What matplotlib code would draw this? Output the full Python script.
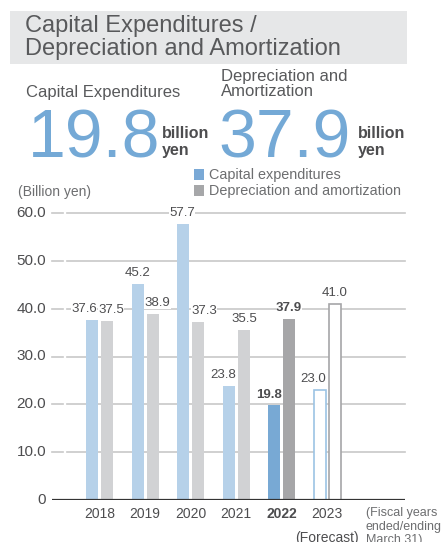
import matplotlib.pyplot as plt
from matplotlib.patches import Rectangle

years = ['2018', '2019', '2020', '2021', '2022', '2023']
capex = [37.6, 45.2, 57.7, 23.8, 19.8, 23.0]
depr = [37.5, 38.9, 37.3, 35.5, 37.9, 41.0]
yticks = [0, 10, 20, 30, 40, 50, 60]
ytick_labels = ['0', '10.0', '20.0', '30.0', '40.0', '50.0', '60.0']

current = 4   # fiscal 2022, highlighted
forecast = 5  # fiscal 2023, outlined

# nudges (px) so neighbouring value labels don't collide
capex_dx = [-8, 0, -1, -5, -5, -6]
depr_dx = [4, 5, 6, 1, 0, 0]

TXT = '#58595b'
SANS = ['Liberation Sans', 'DejaVu Sans']

fig = plt.figure(figsize=(4.45, 5.42), dpi=100)
W, H = 445, 542

def fx(px):
    return px / W

def fy(py):
    return 1 - py / H

# header band
fig.patches.append(Rectangle((fx(10), fy(64)), fx(397), 53 / H, transform=fig.transFigure,
                             facecolor='#e6e7e8', edgecolor='none', zorder=0))
fig.text(fx(25), fy(26), 'Capital Expenditures /', fontsize=17, color=TXT,
         family=SANS, va='center', ha='left')
fig.text(fx(25), fy(49), 'Depreciation and Amortization', fontsize=17, color=TXT,
         family=SANS, va='center', ha='left')

# headline figures
fig.text(fx(26), fy(92), 'Capital Expenditures', fontsize=12, color=TXT, family=SANS, va='center')
fig.text(fx(221), fy(76), 'Depreciation and', fontsize=12, color=TXT, family=SANS, va='center')
fig.text(fx(221), fy(92), 'Amortization', fontsize=12, color=TXT, family=SANS, va='center')

BIG = '#74a9d6'
fig.text(fx(28), fy(157), '19.8', fontsize=49, color=BIG, family=SANS, va='baseline')
fig.text(fx(218), fy(157), '37.9', fontsize=49, color=BIG, family=SANS, va='baseline')
for x0 in (162, 358):
    fig.text(fx(x0), fy(133), 'billion', fontsize=11.5, color='#4d4d4f', family=SANS,
             fontweight='bold', va='center')
    fig.text(fx(x0), fy(150), 'yen', fontsize=11.5, color='#4d4d4f', family=SANS,
             fontweight='bold', va='center')

# legend
fig.patches.append(Rectangle((fx(194), fy(180)), fx(10), 11 / H, transform=fig.transFigure,
                             facecolor='#7aa9d6', edgecolor='none'))
fig.patches.append(Rectangle((fx(194), fy(196)), fx(10), 11 / H, transform=fig.transFigure,
                             facecolor='#a6a7a9', edgecolor='none'))
fig.text(fx(209), fy(175), 'Capital expenditures', fontsize=10.4, color='#6d6e70', family=SANS, va='center')
fig.text(fx(209), fy(191), 'Depreciation and amortization', fontsize=10.4, color='#6d6e70',
         family=SANS, va='center')
fig.text(fx(18), fy(192), '(Billion yen)', fontsize=10, color='#6d6e70', family=SANS, va='center')

# chart area
ax = fig.add_axes([fx(52), fy(500), fx(353), 287 / H])
ax.set_xlim(-1.044, 6.71)
ax.set_ylim(0, 60)
for s in ax.spines.values():
    s.set_visible(False)
ax.set_xticks([])
ax.set_yticks([])

for v, lab in zip(yticks, ytick_labels):
    if v == 0:
        continue
    ax.plot([0, 0.03], [v, v], transform=ax.get_yaxis_transform(), color='#c8c8c8', lw=1.2, clip_on=False)
    ax.plot([0.043, 1], [v, v], transform=ax.get_yaxis_transform(), color='#c8c8c8', lw=1.2, clip_on=False)
for v, lab in zip(yticks, ytick_labels):
    ax.text(-0.016, v, lab, transform=ax.get_yaxis_transform(), ha='right', va='center',
            fontsize=11, color='#4d4d4f', family=SANS)
ax.axhline(0, color='#333333', lw=1.6, zorder=5)

x = list(range(len(years)))
bw = 0.264
off = 0.165
px = 1 / 45.5  # data units per pixel along x
for i in x:
    if i == forecast:
        ax.bar(i - off, capex[i], bw, facecolor='white', edgecolor='#9cc3e4', lw=1.2, zorder=3)
        ax.bar(i + off, depr[i], bw, facecolor='white', edgecolor='#a6a6a8', lw=1.2, zorder=3)
    elif i == current:
        ax.bar(i - off, capex[i], bw, color='#78a9d4', zorder=3)
        ax.bar(i + off, depr[i], bw, color='#a6a6a8', zorder=3)
    else:
        ax.bar(i - off, capex[i], bw, color='#b6d1e9', zorder=3)
        ax.bar(i + off, depr[i], bw, color='#d1d2d4', zorder=3)
    wt = 'bold' if i == current else 'normal'
    for xx, val in ((i - off + capex_dx[i] * px, capex[i]), (i + off + depr_dx[i] * px, depr[i])):
        ax.text(xx, val + 1.0, f'{val:.1f}', ha='center', va='bottom', fontsize=9.5,
                color='#4d4d4f', family=SANS, fontweight=wt, zorder=6,
                bbox=dict(facecolor='white', edgecolor='none', pad=0.2))
    ax.text(i, -3.0, years[i], ha='center', va='center', fontsize=10, color='#4d4d4f',
            family=SANS, fontweight=wt, clip_on=False)

ax.text(forecast, -7.9, '(Forecast)', ha='center', va='center', fontsize=10, color='#4d4d4f',
        family=SANS, clip_on=False)
ax.text(5.85, -1.5, '(Fiscal years\nended/ending\nMarch 31)', ha='left', va='top', fontsize=9,
        color='#6d6e70', family=SANS, linespacing=1.15, clip_on=False)

fig.savefig('out.png', dpi=100, facecolor='white')
